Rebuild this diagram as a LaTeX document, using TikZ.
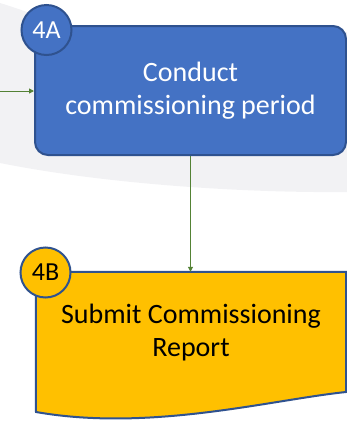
\documentclass[tikz,border=0pt]{standalone}
\usepackage{fontspec}
\setmainfont{Carlito}
\usetikzlibrary{arrows.meta}
\definecolor{boxblue}{HTML}{4472C4}
\definecolor{edgeblue}{HTML}{2F528F}
\definecolor{docyellow}{HTML}{FFC000}
\definecolor{flowgreen}{HTML}{548235}
\definecolor{bggrey}{HTML}{F2F2F4}
\tikzset{
  procbox/.style={draw=edgeblue, line width=2pt, fill=boxblue, rounded corners=13pt,
    minimum width=311pt, minimum height=129pt, inner sep=0pt, align=center,
    text=white, font=\fontsize{28}{33}\selectfont},
  doctext/.style={inner sep=0pt, minimum width=310pt, minimum height=122pt,
    align=center, text=black, font=\fontsize{28}{33}\selectfont},
  docshape/.style={draw=edgeblue, line width=2pt, fill=docyellow},
  badge/.style={circle, draw=edgeblue, line width=2pt, minimum size=50pt, inner sep=0pt,
    font=\fontsize{26}{30}\selectfont},
  flow/.style={draw=flowgreen, line width=1pt, -{Triangle[length=5pt,width=5pt]}}
}
\begin{document}
\begin{tikzpicture}[x=1pt,y=-1pt]
\useasboundingbox (0,0) rectangle (347,424);
% background swoosh
\fill[bggrey] (0,3) .. controls (30,12) and (60,26) .. (100,32)
  -- (347,32) -- (347,192) .. controls (250,193) and (110,185) .. (0,163) -- cycle;
% process box
\node[procbox] (a) at (190.5,90.5) {Conduct\\commissioning period};
% document shape
\node[doctext] (b) at (191,333) {};
\draw[docshape] (b.north west) -- (b.north east) -- (346,392)
  .. controls (270,400) and (150,432) .. (36,412) -- cycle;
\node[doctext] (bt) at (b.center) {Submit Commissioning\\Report};
% connectors
\coordinate (src) at (0,91);
\draw[flow] (src) -- (src -| a.west);
\draw[flow] (a.south) -- (a.south |- b.north);
% badges
\node[badge, fill=boxblue, text=white] (ba) at (46.5,30) {4A};
\node[badge, fill=docyellow, text=black] (bb) at (45.5,272.5) {4B};
\end{tikzpicture}
\end{document}
